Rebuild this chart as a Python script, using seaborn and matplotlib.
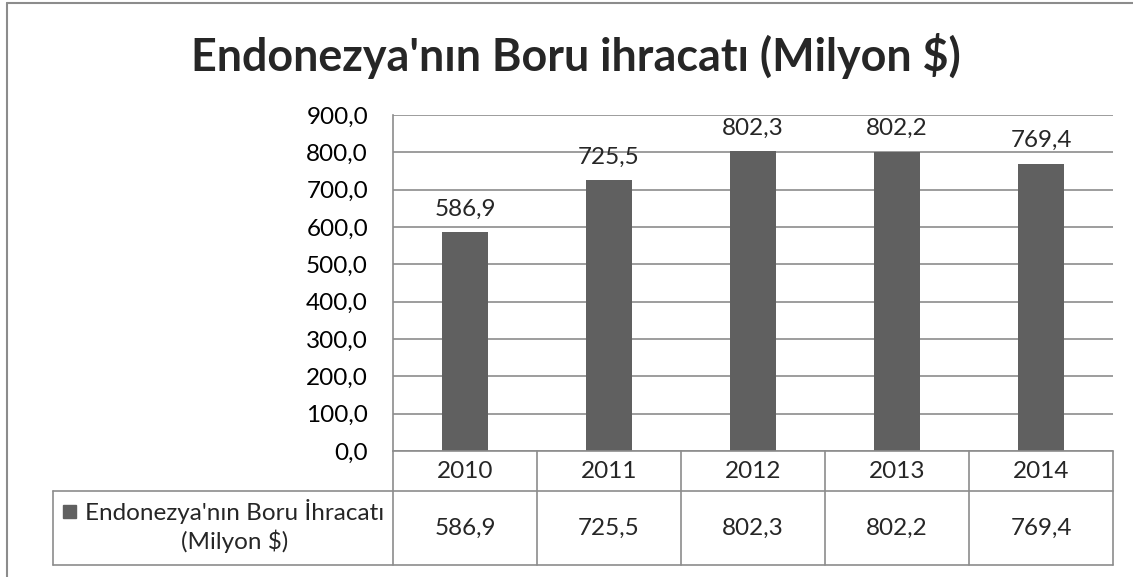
import matplotlib
matplotlib.use("Agg")
import matplotlib.pyplot as plt
import seaborn as sns
import pandas as pd
from matplotlib.lines import Line2D
from matplotlib.patches import Rectangle
from matplotlib.transforms import blended_transform_factory
from matplotlib.ticker import FuncFormatter

years = ["2010", "2011", "2012", "2013", "2014"]
values = [586.9, 725.5, 802.3, 802.2, 769.4]
series_name = "Endonezya'nın Boru İhracatı\n(Milyon $)"
title = "Endonezya'nın Boru ihracatı (Milyon $)"

bar_color = '#606060'
line_color = '#8c8c8c'
fs = 17.5

sns.set_style("white")
plt.rcParams['font.family'] = ['Lato', 'DejaVu Sans']

W, H = 1133, 577
fig = plt.figure(figsize=(W / 100, H / 100), dpi=100)

# plot area (pixel box from the reference)
px_l, px_r, px_t, px_b = 393, 1113, 115, 451
ax = fig.add_axes([px_l / W, 1 - px_b / H, (px_r - px_l) / W, (px_b - px_t) / H])

df = pd.DataFrame({'year': years, 'value': values})
sns.barplot(data=df, x='year', y='value', ax=ax, color=bar_color,
            width=0.32, saturation=1, edgecolor='none')

ax.set_xlim(-0.5, len(years) - 0.5)
ax.set_ylim(0, 900)
ax.set_yticks(range(0, 901, 100))
ax.yaxis.set_major_formatter(FuncFormatter(lambda v, p: f"{v:.1f}".replace('.', ',')))
ax.set_xticks([])
ax.set_xlabel("")
ax.set_ylabel("")
ax.grid(axis='y', color=line_color, linewidth=1.2)
ax.set_axisbelow(True)
for side in ['top', 'right', 'bottom']:
    ax.spines[side].set_visible(False)
ax.spines['left'].set_color(line_color)
ax.spines['left'].set_linewidth(1.2)
ax.tick_params(axis='y', length=0, pad=18, labelsize=fs, labelcolor='black')

# value labels above bars
for i, v in enumerate(values):
    ax.annotate(f"{v:.1f}".replace('.', ','), (i, v), xytext=(0, 9),
                textcoords='offset points', ha='center', va='bottom', fontsize=fs)

# data table below the plot
tr = blended_transform_factory(ax.transData, ax.transAxes)
ph = px_b - px_t
row1 = -(491 - px_b) / ph
row2 = -(565 - px_b) / ph
tleft = (53 - px_l) / (px_r - px_l)
lw = 1.2
n = len(years)
for k in range(n + 1):
    ax.plot([k - 0.5, k - 0.5], [0, row2], transform=tr, color=line_color, lw=lw, clip_on=False)
ax.plot([-0.5, n - 0.5], [0, 0], transform=tr, color=line_color, lw=lw, clip_on=False)
ax.plot([tleft, 1], [row1, row1], transform=ax.transAxes, color=line_color, lw=lw, clip_on=False)
ax.plot([tleft, 1], [row2, row2], transform=ax.transAxes, color=line_color, lw=lw, clip_on=False)
ax.plot([tleft, tleft], [row1, row2], transform=ax.transAxes, color=line_color, lw=lw, clip_on=False)

for i, (y, v) in enumerate(zip(years, values)):
    ax.text(i, row1 / 2, y, transform=tr, ha='center', va='center', fontsize=fs)
    ax.text(i, (row1 + row2) / 2, f"{v:.1f}".replace('.', ','), transform=tr,
            ha='center', va='center', fontsize=fs)

# series label with legend key
fig.text(235 / W, 1 - 526 / H, series_name, ha='center', va='center',
         fontsize=fs, multialignment='center', linespacing=1.3)
fig.add_artist(Rectangle((63 / W, 1 - 518 / H), 13 / W, 13 / H,
                         transform=fig.transFigure, color=bar_color))

# title
fig.text(576 / W, 1 - 56 / H, title, ha='center', va='center',
         fontsize=32.3, fontweight='bold')

# chart frame
fig.add_artist(Line2D([7 / W, 7 / W], [0, 1 - 3 / H], transform=fig.transFigure,
                      color=line_color, lw=1.5))
fig.add_artist(Line2D([7 / W, 1], [1 - 3 / H, 1 - 3 / H], transform=fig.transFigure,
                      color=line_color, lw=1.5))

fig.savefig("out.png", dpi=100)
